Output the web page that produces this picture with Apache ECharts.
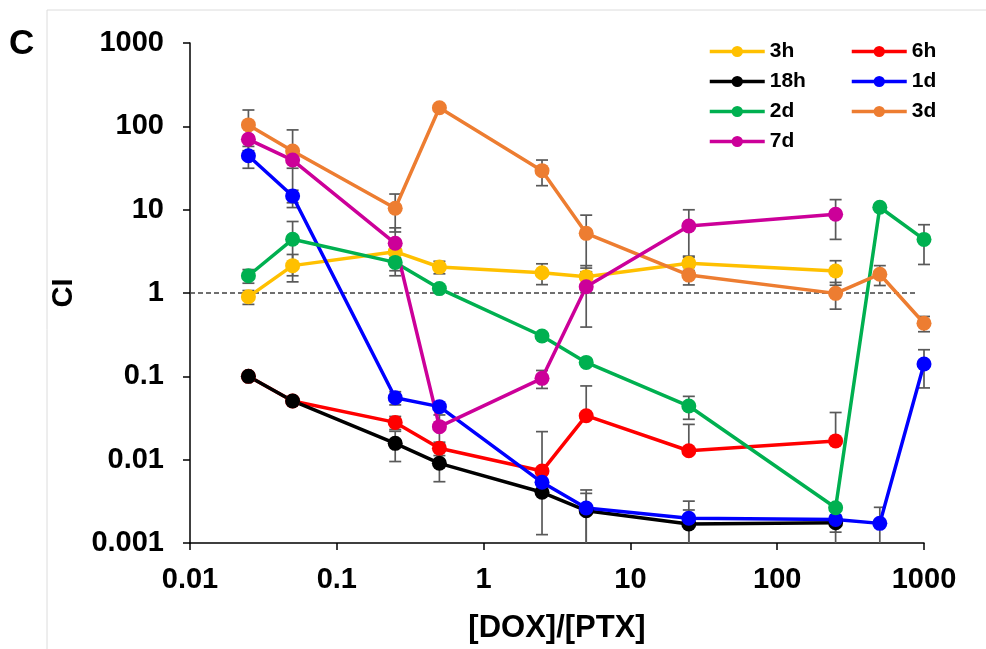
<!DOCTYPE html>
<html>
<head>
<meta charset="utf-8">
<script src="https://cdn.jsdelivr.net/npm/echarts@6/dist/echarts.min.js"></script>
<style>
  html, body { margin: 0; padding: 0; background: #ffffff; }
  #chart { width: 986px; height: 649px; }
</style>
</head>
<body>
<div id="chart"></div>
<script>
// Drug ratio (x) and combination index per time point
const ratios = [0.025, 0.05, 0.25, 0.5, 2.5, 5, 25, 250, 500, 1000];

const ci3h  = [0.9, 2.13, 3.13, 2.05, 1.75, 1.57, 2.27, 1.84, null, null];
const ci6h  = [0.1, 0.0506, 0.028, 0.0137, 0.0073, 0.0337, 0.0128, 0.0168, null, null];
const ci18h = [0.1, 0.0506, 0.0157, 0.00904, 0.00406, 0.00244, 0.00169, 0.00175, null, null];
const ci1d  = [44.4, 14.6, 0.0554, 0.0433, 0.00535, 0.00263, 0.00198, 0.00192, 0.00172, 0.1406];
const ci2d  = [1.61, 4.41, 2.33, 1.13, 0.305, 0.147, 0.044, 0.00265, 10.7, 4.4];
const ci3d  = [104, 50.6, 10.4, 167, 29.4, 5.2, 1.64, 0.99, 1.68, 0.433];
const ci7d  = [69.9, 39.4, 3.95, 0.0249, 0.0946, 1.19, 6.37, 8.8, null, null];

// Standard deviations (0 = no visible bar)
const sd3h  = [0.17, 0.77, 0.5, 0.35, 0.49, 0.56, 0.41, 0.6, 0, 0];
const sd6h  = [0, 0, 0.005, 0.0025, 0.0144, 0.043, 0.0137, 0.02, 0, 0];
const sd18h = [0, 0, 0.0062, 0.0036, 0.0028, 0.0015, 0.0008, 0.0004, 0, 0];
const sd1d  = [13, 2.5, 0.01, 0, 0, 0.0017, 0.0012, 0.001, 0.00096, 0.068];
const sd2d  = [0.3, 2.8, 0.72, 0, 0, 0, 0.0135, 0, 0, 2.2];
const sd3d  = [53, 40, 5, 12, 10, 3.4, 0.39, 0.35, 0.45, 0.09];
const sd7d  = [0, 8, 2.1, 0.0095, 0.023, 0.8, 3.6, 4.4, 0, 0];

const seriesNames  = ['3h', '6h', '18h', '1d', '2d', '3d', '7d'];
const seriesValues = [ci3h, ci6h, ci18h, ci1d, ci2d, ci3d, ci7d];
const seriesErrors = [sd3h, sd6h, sd18h, sd1d, sd2d, sd3d, sd7d];
const seriesColors = ['#FFC000', '#FF0000', '#000000', '#0000FF', '#00B050', '#ED7D31', '#CC0099'];

// Legend columns
const legendLeftCol  = ['3h', '18h', '2d', '7d'];
const legendRightCol = ['6h', '1d', '3d'];

// Reference line CI = 1
const refX = [0.01, 900];
const refY = [1, 1];

const xTickLabels = ['0.01', '0.1', '1', '10', '100', '1000'];
const yTickLabels = ['0.001', '0.01', '0.1', '1', '10', '100', '1000'];

const X_MIN = 0.01, X_MAX = 1000, Y_MIN = 0.001, Y_MAX = 1000;
const FONT = '"Liberation Sans", Arial, sans-serif';

function errorBarRenderer(params, api) {
  const x = api.value(0), v = api.value(1), e = api.value(2);
  if (!e || v == null || isNaN(v)) return null;
  const c = api.coord([x, v]);
  const capHalf = 6;
  const style = { stroke: '#595959', lineWidth: 1.7 };
  const children = [];
  const top = api.coord([x, v + e]);
  children.push({ type: 'line', shape: { x1: c[0], y1: c[1], x2: top[0], y2: top[1] }, style });
  children.push({ type: 'line', shape: { x1: top[0] - capHalf, y1: top[1], x2: top[0] + capHalf, y2: top[1] }, style });
  const low = v - e;
  if (low > 0) {
    if (low >= Y_MIN) {
      const b = api.coord([x, low]);
      children.push({ type: 'line', shape: { x1: c[0], y1: c[1], x2: b[0], y2: b[1] }, style });
      children.push({ type: 'line', shape: { x1: b[0] - capHalf, y1: b[1], x2: b[0] + capHalf, y2: b[1] }, style });
    } else {
      const b = api.coord([x, Y_MIN]);
      children.push({ type: 'line', shape: { x1: c[0], y1: c[1], x2: b[0], y2: b[1] }, style });
    }
  }
  return { type: 'group', children };
}

const series = [];
series.push({
  type: 'line',
  data: refX.map((x, i) => [x, refY[i]]),
  symbol: 'none',
  silent: true,
  lineStyle: { color: '#404040', width: 1.3, type: [5, 3] },
  z: 1
});
seriesNames.forEach((name, k) => {
  series.push({
    type: 'custom',
    name: name + ' sd',
    renderItem: errorBarRenderer,
    encode: { x: 0, y: 1 },
    data: ratios.map((x, i) => seriesValues[k][i] == null ? [x, NaN, 0] : [x, seriesValues[k][i], seriesErrors[k][i]]),
    silent: true,
    z: 2
  });
  series.push({
    type: 'line',
    name: name,
    data: ratios.map((x, i) => seriesValues[k][i] == null ? null : [x, seriesValues[k][i]]).filter(d => d !== null),
    symbol: 'circle',
    symbolSize: 15,
    lineStyle: { color: seriesColors[k], width: 3.5 },
    itemStyle: { color: seriesColors[k] },
    z: 3
  });
});

const legendBase = {
  orient: 'vertical',
  top: 36,
  itemWidth: 55,
  itemHeight: 14,
  itemGap: 9,
  selectedMode: false,
  lineStyle: { width: 3.5 },
  textStyle: { fontFamily: FONT, fontWeight: 'bold', fontSize: 21, color: '#000' }
};

const chart = echarts.init(document.getElementById('chart'), null, { renderer: 'canvas' });
chart.setOption({
  animation: false,
  backgroundColor: '#ffffff',
  grid: { left: 190, top: 43, right: 62, bottom: 106 },
  legend: [
    Object.assign({}, legendBase, { data: legendLeftCol, left: 703 }),
    Object.assign({}, legendBase, { data: legendRightCol, left: 845 })
  ],
  xAxis: {
    type: 'log',
    logBase: 10,
    min: X_MIN,
    max: X_MAX,
    name: '[DOX]/[PTX]',
    nameLocation: 'middle',
    nameGap: 70,
    nameTextStyle: { fontFamily: FONT, fontWeight: 'bold', fontSize: 31, color: '#000' },
    axisLine: { lineStyle: { color: '#000', width: 1.5 } },
    axisTick: { show: true, length: 7, lineStyle: { color: '#000', width: 1.5 } },
    minorTick: { show: false },
    splitLine: { show: false },
    axisLabel: {
      margin: 22,
      fontFamily: FONT, fontWeight: 'bold', fontSize: 29, color: '#000',
      formatter: (val, idx) => xTickLabels[idx] !== undefined ? xTickLabels[idx] : ''
    }
  },
  yAxis: {
    type: 'log',
    logBase: 10,
    min: Y_MIN,
    max: Y_MAX,
    name: 'CI',
    nameLocation: 'middle',
    nameGap: 112,
    nameTextStyle: { fontFamily: FONT, fontWeight: 'bold', fontSize: 29, color: '#000' },
    axisLine: { show: true, lineStyle: { color: '#000', width: 1.5 } },
    axisTick: { show: true, length: 7, lineStyle: { color: '#000', width: 1.5 } },
    splitLine: { show: false },
    axisLabel: {
      margin: 26,
      fontFamily: FONT, fontWeight: 'bold', fontSize: 29, color: '#000',
      formatter: (val, idx) => yTickLabels[idx] !== undefined ? yTickLabels[idx] : ''
    }
  },
  graphic: [
    { type: 'line', shape: { x1: 47, y1: 10, x2: 986, y2: 10 }, style: { stroke: '#dcdcdc', lineWidth: 1 } },
    { type: 'line', shape: { x1: 47, y1: 10, x2: 47, y2: 649 }, style: { stroke: '#dcdcdc', lineWidth: 1 } },
    { type: 'text', left: 9, top: 27, style: { text: 'C', fontFamily: FONT, fontWeight: 'bold', fontSize: 35, fill: '#000' } }
  ],
  series
});
</script>
</body>
</html>
